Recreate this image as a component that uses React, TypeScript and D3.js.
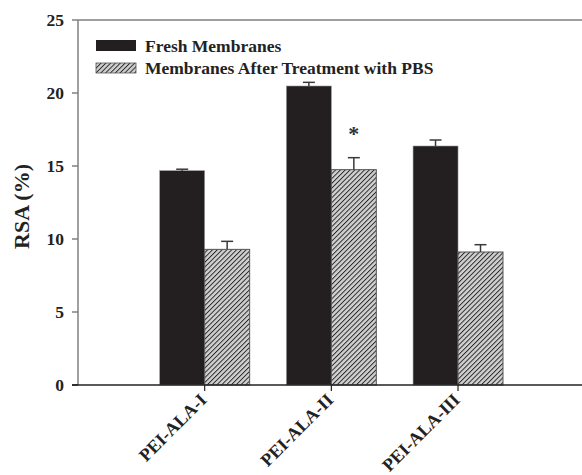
import React from 'react';
import * as d3 from 'd3';

const categories = ['PEI-ALA-I', 'PEI-ALA-II', 'PEI-ALA-III'];
const freshValues = [14.68, 20.48, 16.37];
const freshErrors = [0.1, 0.25, 0.41];
const pbsValues = [9.29, 14.75, 9.11];
const pbsErrors = [0.55, 0.82, 0.5];
const yTicks = [0, 5, 10, 15, 20, 25];
const seriesNames = ['Fresh Membranes', 'Membranes After Treatment with PBS'];
const starred = [false, true, false];

const W = 582;
const H = 475;
const font = '"Liberation Serif", "Times New Roman", serif';

export default function App() {
  const x = d3.scaleLinear().domain([0, 4]).range([78, 584.7]);
  const y = d3.scaleLinear().domain([0, 25]).range([385, 20]);
  const bw = 0.355;
  const y0 = y(0);

  const errBar = (cx: number, v: number, e: number, key: string) => (
    <g key={key} stroke="#3a3a3a" strokeWidth={1.5}>
      <line x1={cx} x2={cx} y1={y(v)} y2={y(v + e)} />
      <line x1={cx - 6} x2={cx + 6} y1={y(v + e)} y2={y(v + e)} />
    </g>
  );

  return (
    <svg width={W} height={H} style={{ position: 'absolute', left: 0, top: 0 }} fontFamily={font}>
      <defs>
        <pattern id="hatch" patternUnits="userSpaceOnUse" width={3.4} height={3.4} patternTransform="rotate(45)">
          <rect width={3.4} height={3.4} fill="#d0d0d0" />
          <line x1={0} y1={0} x2={0} y2={3.4} stroke="#262626" strokeWidth={1.9} />
        </pattern>
      </defs>
      <rect width={W} height={H} fill="#fff" />

      {/* frame top and y axis */}
      <line x1={78} x2={582} y1={y(25)} y2={y(25)} stroke="#808080" strokeWidth={1.5} />
      <line x1={78} x2={78} y1={y(25)} y2={y0} stroke="#808080" strokeWidth={1.5} />
      {yTicks.map((t) => (
        <g key={t}>
          <line x1={72} x2={78} y1={y(t)} y2={y(t)} stroke={t === 0 ? '#222' : '#808080'} strokeWidth={1.5} />
          <text x={64} y={y(t)} dy="0.35em" textAnchor="end" fontWeight="bold" fontSize={17.5} fill="#222">
            {t}
          </text>
        </g>
      ))}

      {/* bars */}
      {categories.map((c, i) => {
        const cx = i + 1;
        return (
          <g key={c}>
            <rect
              x={x(cx - bw)}
              y={y(freshValues[i])}
              width={x(cx) - x(cx - bw)}
              height={y0 - y(freshValues[i])}
              fill="#231f20"
              stroke="#9a9a9a"
              strokeWidth={0.6}
            />
            <rect
              x={x(cx)}
              y={y(pbsValues[i])}
              width={x(cx + bw) - x(cx)}
              height={y0 - y(pbsValues[i])}
              fill="url(#hatch)"
              stroke="#555"
              strokeWidth={1}
            />
            {errBar(x(cx - bw / 2), freshValues[i], freshErrors[i], 'f' + i)}
            {errBar(x(cx + bw / 2), pbsValues[i], pbsErrors[i], 'p' + i)}
            {starred[i] && (
              <text
                x={x(cx + bw / 2)}
                y={y(pbsValues[i] + pbsErrors[i]) - 17}
                textAnchor="middle"
                fontWeight="bold"
                fontSize={22}
                fill="#333"
              >
                *
              </text>
            )}
          </g>
        );
      })}

      {/* x axis */}
      <line x1={72} x2={582} y1={y0} y2={y0} stroke="#222" strokeWidth={1.5} />
      {categories.map((c, i) => {
        const tx = x(i + 1);
        return (
          <g key={'xt' + c}>
            <line x1={tx} x2={tx} y1={y0} y2={y0 + 6} stroke="#222" strokeWidth={1.2} />
            <text
              transform={`translate(${tx + 3},${y0 + 16}) rotate(-45)`}
              textAnchor="end"
              fontWeight="bold"
              fontSize={18}
              fill="#222"
            >
              {c}
            </text>
          </g>
        );
      })}

      {/* y title */}
      <text
        transform={`translate(29,${(y(25) + y0) / 2 + 4}) rotate(-90)`}
        textAnchor="middle"
        fontWeight="bold"
        fontSize={22}
        fill="#222"
      >
        RSA (%)
      </text>

      {/* legend */}
      <rect x={96} y={40} width={40} height={11} fill="#231f20" />
      <rect x={96} y={63} width={40} height={10} fill="url(#hatch)" stroke="#555" strokeWidth={0.8} />
      <text x={145} y={52} fontWeight="bold" fontSize={17.5} fill="#222">
        {seriesNames[0]}
      </text>
      <text x={145} y={73.5} fontWeight="bold" fontSize={17.5} fill="#222">
        {seriesNames[1]}
      </text>
    </svg>
  );
}
